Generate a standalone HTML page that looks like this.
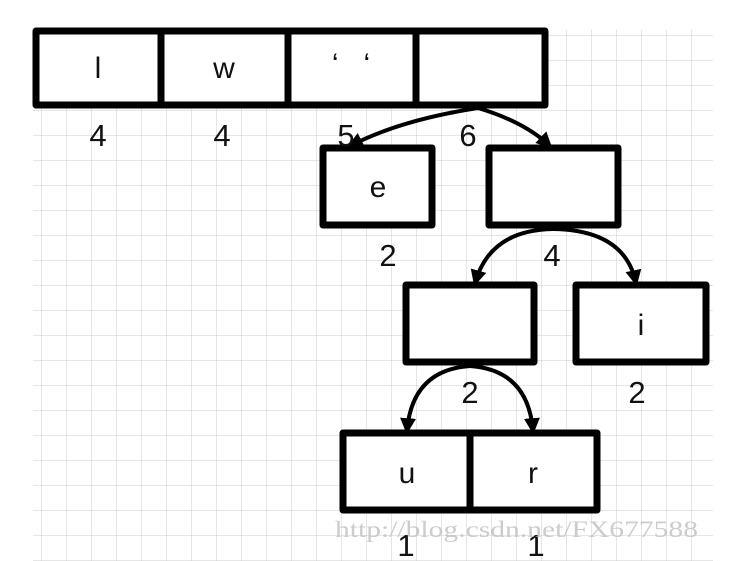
<!DOCTYPE html>
<html><head><meta charset="utf-8"><style>
html,body{margin:0;padding:0;background:#fff;}
svg{display:block;font-family:"Liberation Sans",sans-serif;}
</style></head><body>
<svg width="748" height="561" viewBox="0 0 748 561">
<defs>
<pattern id="g" x="16" y="10" width="25" height="25" patternUnits="userSpaceOnUse">
<path d="M0 0V25M0 0H25" stroke="#cccccc" stroke-width="1" fill="none"/>
</pattern>
<marker id="ah" viewBox="0 0 10 10" refX="8" refY="5" markerWidth="4" markerHeight="4" orient="auto"><path d="M0 0L10 5L0 10z" fill="#000"/></marker>
</defs>
<rect x="33" y="30" width="680" height="531" fill="url(#g)"/>
<g fill="#fff" stroke="#000" stroke-width="7" stroke-linejoin="round">
<rect x="36" y="31" width="509" height="74"/>
<rect x="323" y="148" width="109" height="77"/>
<rect x="489" y="148" width="129" height="77"/>
<rect x="406" y="285" width="128" height="77"/>
<rect x="576" y="285" width="130" height="77"/>
<rect x="343" y="433" width="254" height="77"/>
<path d="M161 31V105M288 31V105M416 31V105M470 433V510" fill="none"/>
</g>
<g fill="none" stroke="#000" stroke-width="4" marker-end="url(#ah)">
<path d="M478 108Q400 120 350 146"/>
<path d="M478 108Q525 122 550 146"/>
<path d="M553 229Q490 230 475 283"/>
<path d="M553 229Q625 230 636 283"/>
<path d="M470 366Q412 370 407 431"/>
<path d="M470 366Q528 370 533 431"/>
</g>
<g font-size="30" text-anchor="middle" fill="#111">
<text x="98" y="78">l</text>
<text x="224" y="78">w</text>
<text x="351" y="74">‘&#160;&#160;&#160;‘</text>
<text x="378" y="197">e</text>
<text x="641" y="335">i</text>
<text x="407" y="483">u</text>
<text x="533" y="483">r</text>
<g font-size="31">
<text x="98" y="146">4</text>
<text x="222" y="146">4</text>
<text x="346" y="146">5</text>
<text x="468" y="146">6</text>
<text x="388" y="266">2</text>
<text x="552" y="266">4</text>
<text x="470" y="403">2</text>
<text x="637" y="403">2</text>
<text x="406" y="556">1</text>
<text x="536" y="556">1</text>
</g>
</g>
<text x="335" y="537" font-family="Liberation Serif,serif" font-size="23" fill="#c4c4c4" opacity="0.85" textLength="363" lengthAdjust="spacingAndGlyphs">http://blog.csdn.net/FX677588</text>
</svg>
</body></html>
